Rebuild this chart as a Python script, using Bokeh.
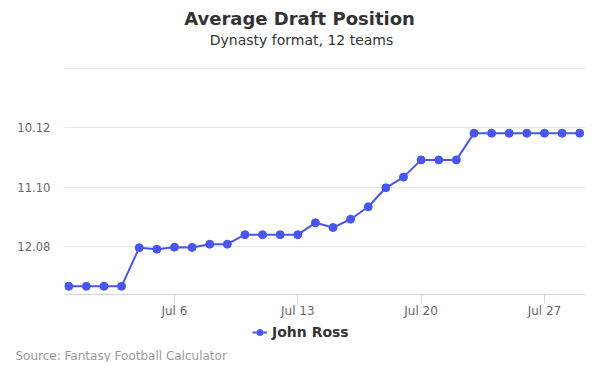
from datetime import datetime, timedelta
from bokeh.plotting import figure
from bokeh.models import Range1d, FixedTicker, Legend, LegendItem, ColumnDataSource, Label, Title
from bokeh.layouts import column
from bokeh.embed import file_html
from bokeh.resources import INLINE

# ---- data ----
start_date = datetime(2021, 6, 30)
adp_picks = [146.7, 146.7, 146.7, 146.7, 140.2, 140.45, 140.1, 140.15, 139.6, 139.6,
             138.0, 138.0, 138.0, 138.0, 136.0, 136.8, 135.4, 133.3, 130.1, 128.3,
             125.4, 125.4, 125.4, 120.9, 120.9, 120.9, 120.9, 120.9, 120.9, 120.9]
dates = [start_date + timedelta(days=i) for i in range(len(adp_picks))]
y_ticks = [110, 120, 130, 140]
y_tick_labels = ["", "10.12", "11.10", "12.08"]
x_tick_dates = [datetime(2021, 7, 6), datetime(2021, 7, 13), datetime(2021, 7, 20), datetime(2021, 7, 27)]
x_tick_labels = ["Jul 6", "Jul 13", "Jul 20", "Jul 27"]
series_name = "John Ross"
title_text = "Average Draft Position"
subtitle_text = "Dynasty format, 12 teams"
source_text = "Source: Fantasy Football Calculator"

FONT = "DejaVu Sans"
LINE = "#4855EF"

def ms(d):
    return (d - datetime(1970, 1, 1)).total_seconds() * 1000.0

src = ColumnDataSource(dict(x=dates, y=adp_picks))

# main chart: frame spans from the top of the page down to the x axis
p = figure(width=600, height=324, x_axis_type="datetime",
           output_backend="svg", toolbar_location=None,
           x_range=Range1d(ms(start_date) - 0.24 * 86400000, ms(dates[-1]) + 0.33 * 86400000),
           y_range=Range1d(148.08, 98.54),
           min_border_left=64, min_border_right=15, min_border_top=0, min_border_bottom=30)
p.outline_line_color = None
p.background_fill_color = "white"
p.border_fill_color = "white"

r_line = p.line("x", "y", source=src, line_color=LINE, line_width=2)
r_pts = p.scatter("x", "y", source=src, size=8, fill_color=LINE, line_color=LINE)

p.xgrid.grid_line_color = None
p.ygrid.grid_line_color = "#e6e6e6"
p.ygrid.ticker = FixedTicker(ticks=y_ticks)

p.yaxis.ticker = FixedTicker(ticks=y_ticks)
p.yaxis.major_label_overrides = {t: l for t, l in zip(y_ticks, y_tick_labels)}
p.yaxis.axis_line_color = None
p.yaxis.major_tick_line_color = None
p.yaxis.minor_tick_line_color = None
p.yaxis.major_label_text_color = "#666666"
p.yaxis.major_label_text_font = FONT
p.yaxis.major_label_text_font_size = "11.6px"
p.yaxis.major_label_standoff = 8

xt = [ms(d) for d in x_tick_dates]
p.xaxis.ticker = FixedTicker(ticks=xt)
p.xaxis.major_label_overrides = {t: l for t, l in zip(xt, x_tick_labels)}
p.xaxis.axis_line_color = "#ccd6eb"
p.xaxis.major_tick_line_color = "#ccd6eb"
p.xaxis.major_tick_out = 9
p.xaxis.major_tick_in = 0
p.xaxis.minor_tick_line_color = None
p.xaxis.major_label_text_color = "#666666"
p.xaxis.major_label_text_font = FONT
p.xaxis.major_label_text_font_size = "12px"
p.xaxis.major_label_standoff = 0

# titles (screen units relative to the frame: frame left = page x 64, frame bottom = page y 294)
p.add_layout(Label(x=235, y=276, x_units="screen", y_units="screen", text=title_text,
                   text_align="center", text_baseline="middle", text_color="#333333",
                   text_font=FONT, text_font_size="18px", text_font_style="bold"))
p.add_layout(Label(x=237, y=255, x_units="screen", y_units="screen", text=subtitle_text,
                   text_align="center", text_baseline="middle", text_color="#333333",
                   text_font=FONT, text_font_size="14px"))

# footer: legend + source
p2 = figure(width=600, height=38, output_backend="svg", toolbar_location=None,
            x_range=Range1d(0, 1), y_range=Range1d(0, 1),
            x_axis_location=None, y_axis_location=None, min_border=0)
p2.outline_line_color = None
p2.grid.visible = False
# legend key renderers (their single point lies outside the footer's visible range)
key_src = ColumnDataSource(dict(x=[ms(dates[0])], y=[adp_picks[0]]))
l_line = p2.line("x", "y", source=key_src, line_color=LINE, line_width=2)
l_pts = p2.scatter("x", "y", source=key_src, size=8, fill_color=LINE, line_color=LINE)

legend = Legend(items=[LegendItem(label=series_name, renderers=[l_line, l_pts], index=0)],
                location=(188, 6), orientation="horizontal",
                label_text_font=FONT, label_text_font_style="bold",
                label_text_font_size="14px", label_text_color="#333333",
                border_line_color=None, background_fill_alpha=0,
                glyph_width=15, glyph_height=16, label_standoff=5, padding=0, margin=0,
                label_height=16)
p2.add_layout(legend, "center")

p2.add_layout(Title(text=source_text, align="left", offset=-49, standoff=0,
                    text_color="#999999", text_font=FONT, text_font_size="12px",
                    text_font_style="normal"), "below")

layout = column(p, p2, spacing=0)
open("out.html", "w").write(file_html(layout, INLINE))
